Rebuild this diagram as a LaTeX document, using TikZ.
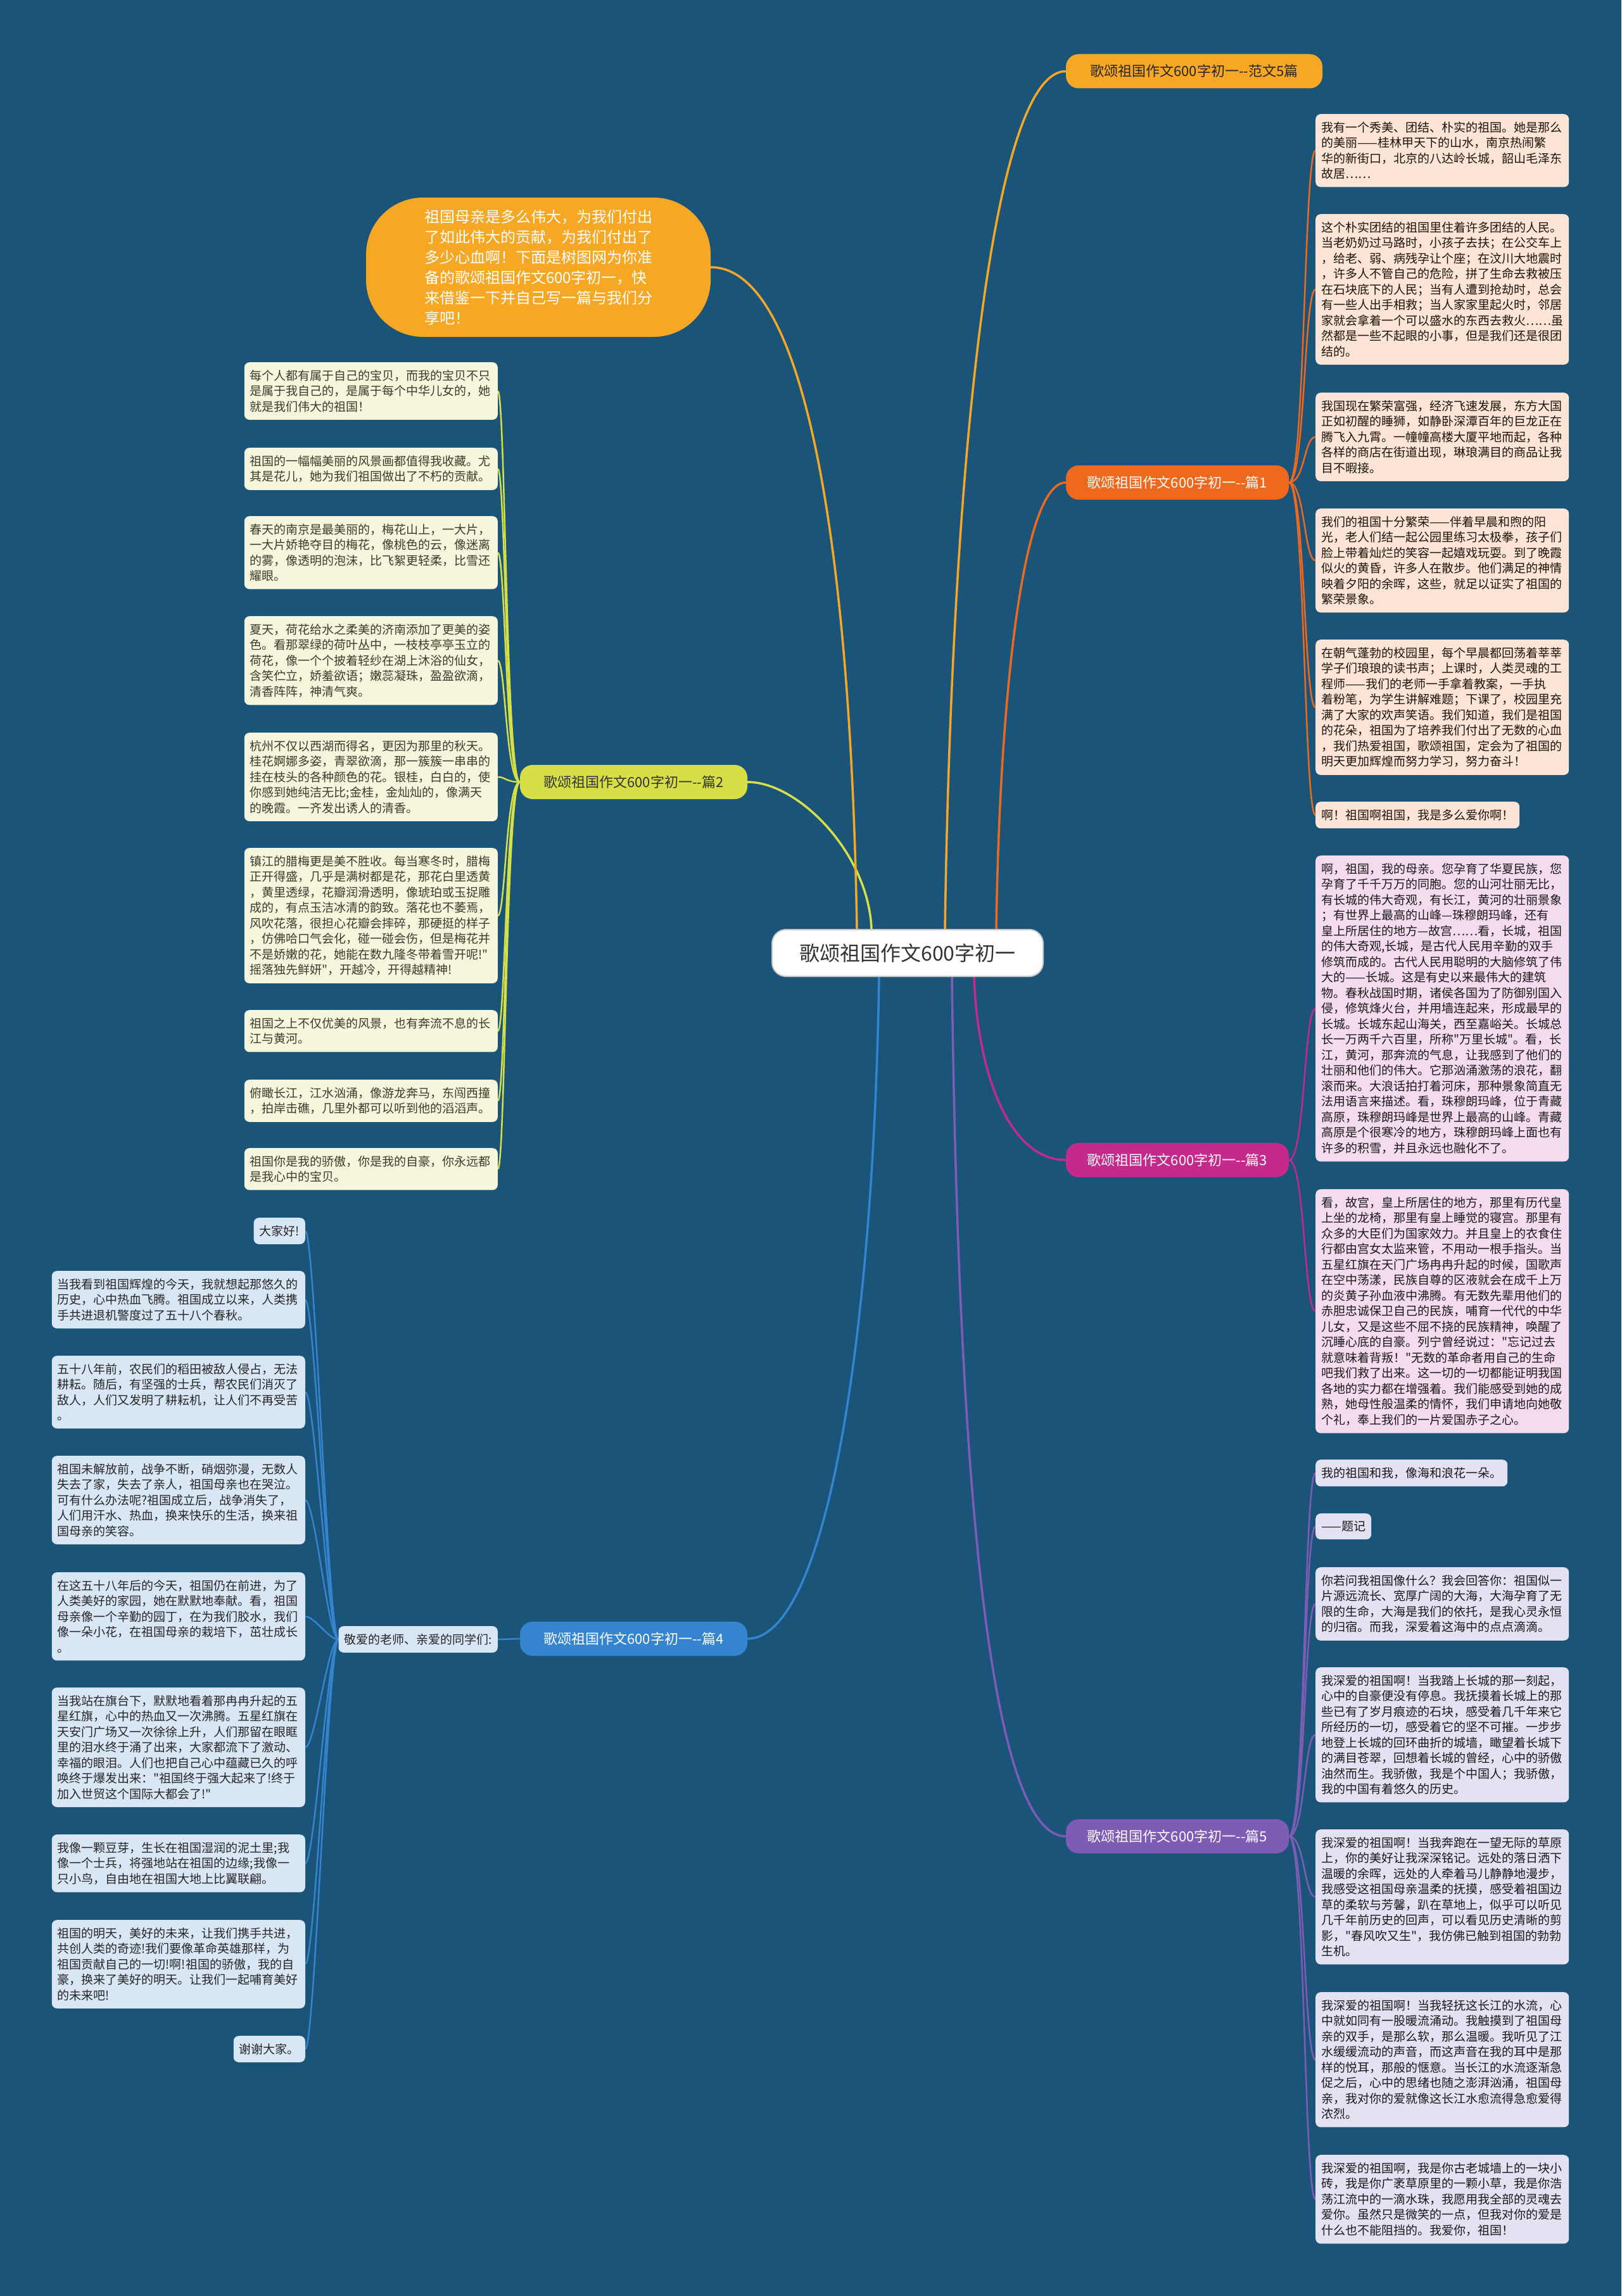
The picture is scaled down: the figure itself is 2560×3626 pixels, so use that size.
\documentclass[tikz,border=0pt]{standalone}
\usepackage{fontspec}
\setmainfont{Noto Sans CJK SC}[Ligatures=TeXOff]
\usetikzlibrary{calc,backgrounds}

\definecolor{bgblue}{RGB}{27,84,121}
\definecolor{gold}{RGB}{246,167,35}
\definecolor{rust}{RGB}{238,104,30}
\definecolor{lime}{RGB}{214,224,70}
\definecolor{berry}{RGB}{196,42,140}
\definecolor{sky}{RGB}{52,132,208}
\definecolor{grape}{RGB}{126,92,182}
\definecolor{peach}{RGB}{252,228,214}
\definecolor{cream}{RGB}{246,246,221}
\definecolor{pinkbox}{RGB}{244,219,238}
\definecolor{lavbox}{RGB}{228,225,243}
\definecolor{icebox}{RGB}{216,230,245}

\tikzset{
  leafbox/.style={rounded corners=8pt, inner xsep=9pt, inner ysep=12pt, align=left,
    font=\fontsize{19}{24.5}\selectfont},
  leafwide/.style={leafbox, text width=382pt},
  branchbox/.style={rounded corners=20pt, minimum height=54pt, inner xsep=18pt,
    font=\fontsize{22}{26}\selectfont},
  twigline/.style={line width=2.5pt},
  limbline/.style={line width=3.5pt},
}

\begin{document}
\begin{tikzpicture}[x=1pt, y=-1pt]
	\useasboundingbox (0,0) rectangle (2560,3626);

	% 1. CENTRE
	\node[draw=gray!45, line width=2pt, fill=white, rounded corners=22pt, minimum width=428pt,
	  minimum height=74pt, font=\fontsize{32}{36}\selectfont, text=black!80] (ctr) at (1433,1505) {歌颂祖国作文600字初一};

	% 2. Intro bubble (top left)
	\node[fill=gold, text=white, rounded corners=90pt, minimum width=544pt, minimum height=220pt,
	  align=left, font=\fontsize{24}{32}\selectfont] (tip) at (850,422)
	  {祖国母亲是多么伟大，为我们付出\\了如此伟大的贡献，为我们付出了\\多少心血啊！下面是树图网为你准\\备的歌颂祖国作文600字初一，快\\来借鉴一下并自己写一篇与我们分\\享吧！};

	% 3. Branch labels
	\node[branchbox, fill=gold, text=black!85, minimum width=405pt] (fw) at (1885.5,112.5) {歌颂祖国作文600字初一--范文5篇};
	\node[branchbox, fill=rust, text=white, minimum width=352pt] (b1) at (1859,762) {歌颂祖国作文600字初一--篇1};
	\node[branchbox, fill=berry, text=white, minimum width=352pt] (b3) at (1859,1832) {歌颂祖国作文600字初一--篇3};
	\node[branchbox, fill=grape, text=white, minimum width=352pt] (b5) at (1859,2900) {歌颂祖国作文600字初一--篇5};
	\node[branchbox, fill=lime, text=black!80, minimum width=359pt] (b2) at (1000.5,1235) {歌颂祖国作文600字初一--篇2};
	\node[branchbox, fill=sky, text=white, minimum width=359pt] (b4) at (1000.5,2588) {歌颂祖国作文600字初一--篇4};

	% --- 篇1 (right, peach) ---
	\begin{scope}[every node/.style={leafwide, fill=peach, text=black!85!brown, anchor=north west}]
		\node (l1a) at (2077,180) {我有一个秀美、团结、朴实的祖国。她是那么\\的美丽——桂林甲天下的山水，南京热闹繁\\华的新街口，北京的八达岭长城，韶山毛泽东\\故居……};
		\node (l1b) at (2077,338) {这个朴实团结的祖国里住着许多团结的人民。\\当老奶奶过马路时，小孩子去扶；在公交车上\\，给老、弱、病残孕让个座；在汶川大地震时\\，许多人不管自己的危险，拼了生命去救被压\\在石块底下的人民；当有人遭到抢劫时，总会\\有一些人出手相救；当人家家里起火时，邻居\\家就会拿着一个可以盛水的东西去救火……虽\\然都是一些不起眼的小事，但是我们还是很团\\结的。};
		\node (l1c) at (2077,620) {我国现在繁荣富强，经济飞速发展，东方大国\\正如初醒的睡狮，如静卧深潭百年的巨龙正在\\腾飞入九霄。一幢幢高楼大厦平地而起，各种\\各样的商店在街道出现，琳琅满目的商品让我\\目不暇接。};
		\node (l1d) at (2077,803) {我们的祖国十分繁荣——伴着早晨和煦的阳\\光，老人们结一起公园里练习太极拳，孩子们\\脸上带着灿烂的笑容一起嬉戏玩耍。到了晚霞\\似火的黄昏，许多人在散步。他们满足的神情\\映着夕阳的余晖，这些，就足以证实了祖国的\\繁荣景象。};
		\node (l1e) at (2077,1010) {在朝气蓬勃的校园里，每个早晨都回荡着莘莘\\学子们琅琅的读书声；上课时，人类灵魂的工\\程师——我们的老师一手拿着教案，一手执\\着粉笔，为学生讲解难题；下课了，校园里充\\满了大家的欢声笑语。我们知道，我们是祖国\\的花朵，祖国为了培养我们付出了无数的心血\\，我们热爱祖国，歌颂祖国，定会为了祖国的\\明天更加辉煌而努力学习，努力奋斗！};
		\node[text width=] (l1f) at (2077,1266) {啊！祖国啊祖国，我是多么爱你啊！};
	\end{scope}

	% --- 篇3 (right, pink) ---
	\begin{scope}[every node/.style={leafwide, fill=pinkbox, text=black!90, anchor=north west}]
		\node (l3a) at (2077,1351) {啊，祖国，我的母亲。您孕育了华夏民族，您\\孕育了千千万万的同胞。您的山河壮丽无比，\\有长城的伟大奇观，有长江，黄河的壮丽景象\\；有世界上最高的山峰—珠穆朗玛峰，还有\\皇上所居住的地方—故宫……看，长城，祖国\\的伟大奇观,长城，是古代人民用辛勤的双手\\修筑而成的。古代人民用聪明的大脑修筑了伟\\大的——长城。这是有史以来最伟大的建筑\\物。春秋战国时期，诸侯各国为了防御别国入\\侵，修筑烽火台，并用墙连起来，形成最早的\\长城。长城东起山海关，西至嘉峪关。长城总\\长一万两千六百里，所称"万里长城"。看，长\\江，黄河，那奔流的气息，让我感到了他们的\\壮丽和他们的伟大。它那汹涌激荡的浪花，翻\\滚而来。大浪话拍打着河床，那种景象简直无\\法用语言来描述。看，珠穆朗玛峰，位于青藏\\高原，珠穆朗玛峰是世界上最高的山峰。青藏\\高原是个很寒冷的地方，珠穆朗玛峰上面也有\\许多的积雪，并且永远也融化不了。};
		\node (l3b) at (2077,1878) {看，故宫，皇上所居住的地方，那里有历代皇\\上坐的龙椅，那里有皇上睡觉的寝宫。那里有\\众多的大臣们为国家效力。并且皇上的衣食住\\行都由宫女太监来管，不用动一根手指头。当\\五星红旗在天门广场冉冉升起的时候，国歌声\\在空中荡漾，民族自尊的区液就会在成千上万\\的炎黄子孙血液中沸腾。有无数先辈用他们的\\赤胆忠诚保卫自己的民族，哺育一代代的中华\\儿女，又是这些不屈不挠的民族精神，唤醒了\\沉睡心底的自豪。列宁曾经说过："忘记过去\\就意味着背叛！"无数的革命者用自己的生命\\吧我们救了出来。这一切的一切都能证明我国\\各地的实力都在增强着。我们能感受到她的成\\熟，她母性般温柔的情怀，我们申请地向她敬\\个礼，奉上我们的一片爱国赤子之心。};
	\end{scope}

	% --- 篇5 (right, lavender) ---
	\begin{scope}[every node/.style={leafwide, fill=lavbox, text=black!90, anchor=north west}]
		\node[text width=] (l5a) at (2077,2305) {我的祖国和我，像海和浪花一朵。};
		\node[text width=] (l5b) at (2077,2390) {——题记};
		\node (l5c) at (2077,2475) {你若问我祖国像什么？我会回答你：祖国似一\\片源远流长、宽厚广阔的大海，大海孕育了无\\限的生命，大海是我们的依托，是我心灵永恒\\的归宿。而我，深爱着这海中的点点滴滴。};
		\node (l5d) at (2077,2633) {我深爱的祖国啊！当我踏上长城的那一刻起，\\心中的自豪便没有停息。我抚摸着长城上的那\\些已有了岁月痕迹的石块，感受着几千年来它\\所经历的一切，感受着它的坚不可摧。一步步\\地登上长城的回环曲折的城墙，瞰望着长城下\\的满目苍翠，回想着长城的曾经，心中的骄傲\\油然而生。我骄傲，我是个中国人；我骄傲，\\我的中国有着悠久的历史。};
		\node (l5e) at (2077,2889) {我深爱的祖国啊！当我奔跑在一望无际的草原\\上，你的美好让我深深铭记。远处的落日洒下\\温暖的余晖，远处的人牵着马儿静静地漫步，\\我感受这祖国母亲温柔的抚摸，感受着祖国边\\草的柔软与芳馨，趴在草地上，似乎可以听见\\几千年前历史的回声，可以看见历史清晰的剪\\影，"春风吹又生"，我仿佛已触到祖国的勃勃\\生机。};
		\node (l5f) at (2077,3146) {我深爱的祖国啊！当我轻抚这长江的水流，心\\中就如同有一股暖流涌动。我触摸到了祖国母\\亲的双手，是那么软，那么温暖。我听见了江\\水缓缓流动的声音，而这声音在我的耳中是那\\样的悦耳，那般的惬意。当长江的水流逐渐急\\促之后，心中的思绪也随之澎湃汹涌，祖国母\\亲，我对你的爱就像这长江水愈流得急愈爱得\\浓烈。};
		\node (l5g) at (2077,3403) {我深爱的祖国啊，我是你古老城墙上的一块小\\砖，我是你广袤草原里的一颗小草，我是你浩\\荡江流中的一滴水珠，我愿用我全部的灵魂去\\爱你。虽然只是微笑的一点，但我对你的爱是\\什么也不能阻挡的。我爱你，祖国！};
	\end{scope}

	% --- 篇2 (left, cream) ---
	\begin{scope}[every node/.style={leafwide, fill=cream, text=black!75!olive, anchor=north east}]
		\node (l2a) at (786,572) {每个人都有属于自己的宝贝，而我的宝贝不只\\是属于我自己的，是属于每个中华儿女的，她\\就是我们伟大的祖国！};
		\node (l2b) at (786,707) {祖国的一幅幅美丽的风景画都值得我收藏。尤\\其是花儿，她为我们祖国做出了不朽的贡献。};
		\node (l2c) at (786,815) {春天的南京是最美丽的，梅花山上，一大片，\\一大片娇艳夺目的梅花，像桃色的云，像迷离\\的雾，像透明的泡沫，比飞絮更轻柔，比雪还\\耀眼。};
		\node (l2d) at (786,973) {夏天，荷花给水之柔美的济南添加了更美的姿\\色。看那翠绿的荷叶丛中，一枝枝亭亭玉立的\\荷花，像一个个披着轻纱在湖上沐浴的仙女，\\含笑伫立，娇羞欲语；嫩蕊凝珠，盈盈欲滴，\\清香阵阵，神清气爽。};
		\node (l2e) at (786,1157) {杭州不仅以西湖而得名，更因为那里的秋天。\\桂花婀娜多姿，青翠欲滴，那一簇簇一串串的\\挂在枝头的各种颜色的花。银桂，白白的，使\\你感到她纯洁无比;金桂，金灿灿的，像满天\\的晚霞。一齐发出诱人的清香。};
		\node (l2f) at (786,1339) {镇江的腊梅更是美不胜收。每当寒冬时，腊梅\\正开得盛，几乎是满树都是花，那花白里透黄\\，黄里透绿，花瓣润滑透明，像琥珀或玉捉雕\\成的，有点玉洁冰清的韵致。落花也不萎焉，\\风吹花落，很担心花瓣会摔碎，那硬挺的样子\\，仿佛哈口气会化，碰一碰会伤，但是梅花并\\不是娇嫩的花，她能在数九隆冬带着雪开呢!"\\摇落独先鲜妍"，开越冷，开得越精神!};
		\node (l2g) at (786,1595) {祖国之上不仅优美的风景，也有奔流不息的长\\江与黄河。};
		\node (l2h) at (786,1705) {俯瞰长江，江水汹涌，像游龙奔马，东闯西撞\\，拍岸击礁，几里外都可以听到他的滔滔声。};
		\node (l2i) at (786,1813) {祖国你是我的骄傲，你是我的自豪，你永远都\\是我心中的宝贝。};
	\end{scope}

	% --- 篇4 (left, ice blue) ---
	\node[leafbox, fill=icebox, text=black!85, anchor=east] (hub) at (786,2589) {敬爱的老师、亲爱的同学们:};
	\begin{scope}[every node/.style={leafwide, fill=icebox, text=black!85, anchor=north east}]
		\node[text width=] (l4a) at (482,1923) {大家好!};
		\node (l4b) at (482,2007) {当我看到祖国辉煌的今天，我就想起那悠久的\\历史，心中热血飞腾。祖国成立以来，人类携\\手共进退机警度过了五十八个春秋。};
		\node (l4c) at (482,2141) {五十八年前，农民们的稻田被敌人侵占，无法\\耕耘。随后，有坚强的士兵，帮农民们消灭了\\敌人，人们又发明了耕耘机，让人们不再受苦\\。};
		\node (l4d) at (482,2299) {祖国未解放前，战争不断，硝烟弥漫，无数人\\失去了家，失去了亲人，祖国母亲也在哭泣。\\可有什么办法呢?祖国成立后，战争消失了，\\人们用汗水、热血，换来快乐的生活，换来祖\\国母亲的笑容。};
		\node (l4e) at (482,2483) {在这五十八年后的今天，祖国仍在前进，为了\\人类美好的家园，她在默默地奉献。看，祖国\\母亲像一个辛勤的园丁，在为我们胶水，我们\\像一朵小花，在祖国母亲的栽培下，茁壮成长\\。};
		\node (l4f) at (482,2665) {当我站在旗台下，默默地看着那冉冉升起的五\\星红旗，心中的热血又一次沸腾。五星红旗在\\天安门广场又一次徐徐上升，人们那留在眼眶\\里的泪水终于涌了出来，大家都流下了激动、\\幸福的眼泪。人们也把自己心中蕴藏已久的呼\\唤终于爆发出来："祖国终于强大起来了!终于\\加入世贸这个国际大都会了!"};
		\node (l4g) at (482,2897) {我像一颗豆芽，生长在祖国湿润的泥土里;我\\像一个士兵，将强地站在祖国的边缘;我像一\\只小鸟，自由地在祖国大地上比翼联翩。};
		\node (l4h) at (482,3032) {祖国的明天，美好的未来，让我们携手共进，\\共创人类的奇迹!我们要像革命英雄那样，为\\祖国贡献自己的一切!啊!祖国的骄傲，我的自\\豪，换来了美好的明天。让我们一起哺育美好\\的未来吧!};
		\node[text width=] (l4i) at (482,3215) {谢谢大家。};
	\end{scope}

	% --- Connectors, behind everything ---
	\begin{scope}[on background layer]
		\fill[bgblue] (0,0) rectangle (2560,3626);

		% centre to branches
		\draw[limbline, gold] ($(ctr.north)+(59,0)$) .. controls +(10,-700) and +(-120,0) .. (fw.west);
		\draw[limbline, rust] ($(ctr.north)+(140,0)$) .. controls +(5,-350) and +(-70,0) .. (b1.west);
		\draw[limbline, berry] ($(ctr.south)+(105,0)$) .. controls +(5,150) and +(-90,0) .. (b3.west);
		\draw[limbline, grape] ($(ctr.south)+(70,0)$) .. controls +(10,800) and +(-120,0) .. (b5.west);
		\draw[limbline, lime] ($(ctr.north)+(-57,0)$) .. controls +(-5,-120) and +(80,0) .. (b2.east);
		\draw[limbline, sky] ($(ctr.south)+(-45,0)$) .. controls +(-10,600) and +(120,0) .. (b4.east);
		\draw[limbline, gold] ($(ctr.north)+(-80,0)$) .. controls +(-10,-600) and +(150,0) .. (tip.east);

		% branches to leaves
		\foreach \n in {l1a,l1b,l1c,l1d,l1e,l1f}
			\draw[twigline, rust] (b1.east) .. controls +(25,0) and +(-18,0) .. (\n.west);
		\foreach \n in {l3a,l3b}
			\draw[twigline, berry] (b3.east) .. controls +(25,0) and +(-18,0) .. (\n.west);
		\foreach \n in {l5a,l5b,l5c,l5d,l5e,l5f,l5g}
			\draw[twigline, grape] (b5.east) .. controls +(25,0) and +(-18,0) .. (\n.west);
		\foreach \n in {l2a,l2b,l2c,l2d,l2e,l2f,l2g,l2h,l2i}
			\draw[twigline, lime] (b2.west) .. controls +(-22,0) and +(12,0) .. (\n.east);
		\draw[twigline, sky] (b4.west) -- (hub.east);
		\foreach \n in {l4a,l4b,l4c,l4d,l4e,l4f,l4g,l4h,l4i}
			\draw[twigline, sky] (hub.west) .. controls +(-16,0) and +(15,0) .. (\n.east);
	\end{scope}

\end{tikzpicture}
\end{document}
